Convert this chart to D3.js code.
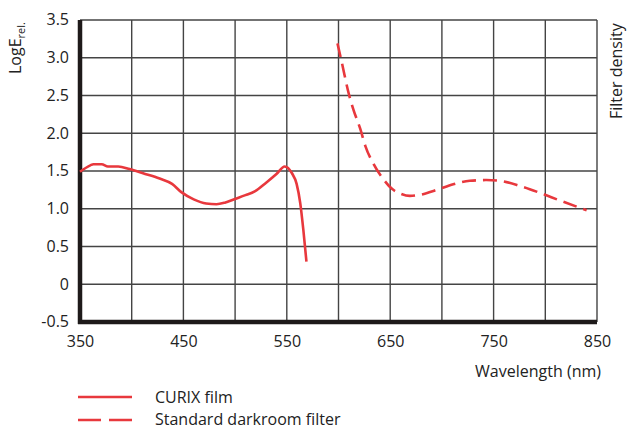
<!DOCTYPE html>
<html><head><meta charset="utf-8">
<script src="https://cdn.jsdelivr.net/npm/d3@7"></script>
<style>
html,body{margin:0;padding:0;background:#fff;}
text{font-family:"Open Sans","DejaVu Sans",sans-serif;fill:#222;}
</style></head>
<body><svg id="c" width="631" height="429"></svg>
<script>
const xTicks = [350, 450, 550, 650, 750, 850];
const yTicks = [-0.5, 0, 0.5, 1.0, 1.5, 2.0, 2.5, 3.0, 3.5];
const yTickLabels = ["-0.5", "0", "0.5", "1.0", "1.5", "2.0", "2.5", "3.0", "3.5"];

const curixNm  = [350, 360, 363, 371, 377, 387, 398, 411, 427, 439, 448, 460, 472, 482, 490, 500, 510, 519, 530, 540, 548, 555, 559.5, 563, 566, 569];
const curixVal = [1.49, 1.575, 1.59, 1.59, 1.56, 1.56, 1.525, 1.47, 1.40, 1.33, 1.22, 1.125, 1.07, 1.06, 1.08, 1.13, 1.18, 1.23, 1.345, 1.46, 1.56, 1.47, 1.33, 1.075, 0.72, 0.30];

const filterNm  = [599, 603, 610, 614.5, 621, 626, 634, 643.5, 652, 660, 669, 679, 695, 711, 727, 743, 756, 776, 795, 814, 840];
const filterVal = [3.19, 2.95, 2.52, 2.31, 2.06, 1.83, 1.59, 1.39, 1.26, 1.20, 1.17, 1.185, 1.25, 1.325, 1.37, 1.38, 1.37, 1.30, 1.21, 1.11, 0.98];

const seriesNames = ["CURIX film", "Standard darkroom filter"];

const svg = d3.select("#c");
const L = 80, R = 597, T = 20, B = 322;
const x = d3.scaleLinear().domain([350, 850]).range([L, R]);
const y = d3.scaleLinear().domain([-0.5, 3.5]).range([B, T]);
const red = "#e8383d";
const FS = 16;

// grid
const g = svg.append("g");
g.selectAll(".vg").data(d3.range(350, 851, 50)).join("line")
  .attr("x1", d => x(d)).attr("x2", d => x(d)).attr("y1", T).attr("y2", B)
  .attr("stroke", "#444").attr("stroke-width", 1.4);
g.selectAll(".hg").data(yTicks).join("line")
  .attr("x1", L).attr("x2", R).attr("y1", d => y(d)).attr("y2", d => y(d))
  .attr("stroke", "#444").attr("stroke-width", 1.4);

// frame: thick left and bottom
svg.append("line").attr("x1", L).attr("x2", L).attr("y1", T).attr("y2", B + 2)
  .attr("stroke", "#1e1a1a").attr("stroke-width", 4.5);
svg.append("line").attr("x1", L - 2).attr("x2", R).attr("y1", B).attr("y2", B)
  .attr("stroke", "#1e1a1a").attr("stroke-width", 4.5);

// axes labels via d3 axis
const yAxis = d3.axisLeft(y).tickValues(yTicks).tickSize(0).tickPadding(11)
  .tickFormat((d, i) => yTickLabels[i]);
const ya = svg.append("g").attr("transform", `translate(${L},0)`).call(yAxis);
ya.select(".domain").remove();
ya.selectAll("text").attr("font-size", FS).attr("font-family", "Open Sans").attr("fill", "#222").attr("dy", "0.3em");

const xAxis = d3.axisBottom(x).tickValues(xTicks).tickSize(0).tickPadding(14);
const xa = svg.append("g").attr("transform", `translate(0,${B})`).call(xAxis);
xa.select(".domain").remove();
xa.selectAll("text").attr("font-size", FS).attr("font-family", "Open Sans").attr("fill", "#222");

// lines
const line = d3.line().x(d => x(d[0])).y(d => y(d[1])).curve(d3.curveMonotoneX);
svg.append("path").datum(curixNm.map((n, i) => [n, curixVal[i]]))
  .attr("d", line).attr("fill", "none").attr("stroke", red).attr("stroke-width", 2.6)
  .attr("stroke-linejoin", "round");
svg.append("path").datum(filterNm.map((n, i) => [n, filterVal[i]]))
  .attr("d", line).attr("fill", "none").attr("stroke", red).attr("stroke-width", 2.6)
  .attr("stroke-dasharray", "14,7");

// titles
svg.append("text").attr("transform", "translate(21,74) rotate(-90)")
  .attr("font-size", FS)
  .call(t => {
    t.append("tspan").text("LogE");
    t.append("tspan").attr("font-size", 11).attr("dy", 4).text("rel.");
  });
svg.append("text").attr("transform", "translate(622,119) rotate(-90)")
  .attr("font-size", FS).text("Filter density");

svg.append("text").attr("x", 601).attr("y", 377).attr("text-anchor", "end")
  .attr("font-size", FS).text("Wavelength (nm)");

// legend
const lg = svg.append("g");
lg.append("line").attr("x1", 78).attr("x2", 132).attr("y1", 397).attr("y2", 397)
  .attr("stroke", red).attr("stroke-width", 2.6);
lg.append("line").attr("x1", 78).attr("x2", 132).attr("y1", 420).attr("y2", 420)
  .attr("stroke", red).attr("stroke-width", 2.6).attr("stroke-dasharray", "23,8");
lg.append("text").attr("x", 155).attr("y", 403).attr("font-size", FS).text(seriesNames[0]);
lg.append("text").attr("x", 155).attr("y", 425).attr("font-size", FS).text(seriesNames[1]);
</script></body></html>
